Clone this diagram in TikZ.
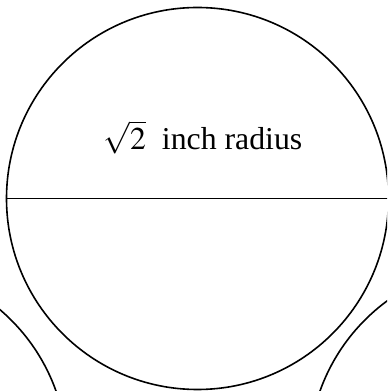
\documentclass[tikz,border=0pt]{standalone}
\usepackage{mathptmx}
\usepackage{fontspec}
\setmainfont{Liberation Serif}
\usetikzlibrary{calc}

\begin{document}
\begin{tikzpicture}[x=0.5pt, y=0.5pt, line width=0.8pt]
    \useasboundingbox (0,0) rectangle (387,391);
    \clip (0,0) rectangle (387,391);
    \tikzset{disc/.style={circle, draw, inner sep=0pt, minimum size=191pt}}
    % the main circle and its diameter
    \node[disc] (main) at (197.5,192.5) {};
    \draw (main.west) -- (main.east);
    \node[anchor=base, font=\fontsize{15.9}{19}\selectfont] (label) at (203,241) {$\sqrt{2}$\ \ inch radius};
    % neighbouring circles, cut off by the frame
    \node[disc] (left) at (-124,-64) {};
    \node[disc] (right) at (500,-64) {};
\end{tikzpicture}
\end{document}
